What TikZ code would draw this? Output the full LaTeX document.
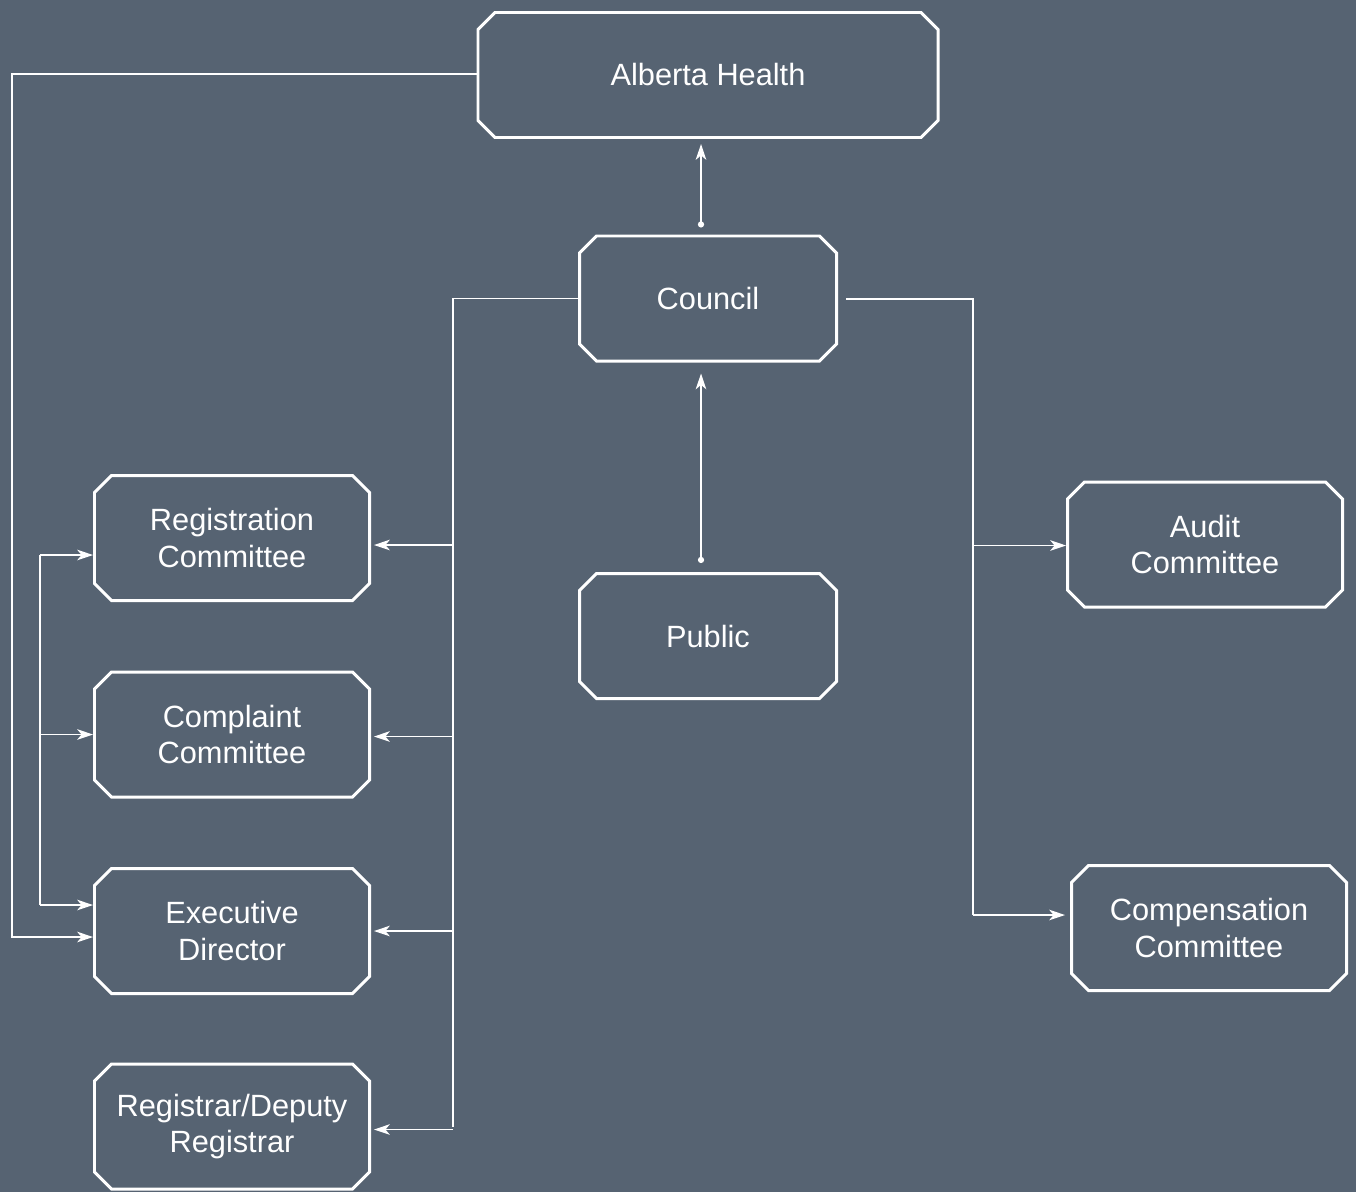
\documentclass[tikz,border=0pt]{standalone}
\usepackage{fontspec}
\setmainfont{Liberation Sans}
\usetikzlibrary{shapes.misc,arrows.meta}
\definecolor{slate}{HTML}{566372}

\begin{document}
\begin{tikzpicture} [x=0.2cm,y=-0.2cm,every node/.style={chamfered rectangle,chamfered rectangle xsep=0.17cm,chamfered rectangle ysep=0.17cm,draw=white,line width=1.7pt,text=white,align=center,font=\fontsize{17.5}{20.5}\selectfont,minimum width=5.5cm,minimum height=2.5cm,inner sep=0pt},link/.style={draw=white,line width=0.8pt},arr/.style={link,-{Stealth[length=9pt,width=6pt,inset=2.5pt]}}]
	\fill[slate] (0,0) rectangle (135.6,119.2);
	\node[minimum width=9.2cm] (ah) at (70.8, 7.5) {Alberta Health};
	\node[minimum width=5.14cm] (co) at (70.8,29.85) {Council};
	\node[minimum width=5.14cm] (pu) at (70.8,63.6) {Public};
	\node (rc) at (23.2,53.8) {Registration\\Committee};
	\node (cc) at (23.2,73.45) {Complaint\\Committee};
	\node (ed) at (23.2,93.1) {Executive\\Director};
	\node (rr) at (23.2,112.65) {Registrar/Deputy\\Registrar};
	\node (ac) at (120.5,54.45) {Audit\\Committee};
	\node (cm) at (120.9,92.8) {Compensation\\Committee};
	\coordinate (lb) at (45.3,29.7);
	\coordinate (rb) at (97.3,29.9);
	\coordinate (ob) at (1.2,7.4);
	\coordinate (kt) at (4.0,55.5);
	\coordinate (kb) at (4.0,90.5);
	% upward links with a dot at the start
	\draw [arr,{Circle[length=3.5pt]}-{Stealth[length=9pt,width=6pt,inset=2.5pt]},shorten <=0.14cm,shorten >=0.1cm] ([xshift=-0.14cm]co.north) -- ([xshift=-0.14cm]ah.south);
	\draw [arr,{Circle[length=3.5pt]}-{Stealth[length=9pt,width=6pt,inset=2.5pt]},shorten <=0.18cm,shorten >=0.22cm] ([xshift=-0.14cm]pu.north) -- ([xshift=-0.14cm]co.north |- co.south);
	% council to the committees on the left
	\draw [link] (co.west) -| (lb |- rr.east);
	\foreach \to/\dy in {rc/-0.14,cc/-0.04,ed/0,rr/-0.06}
		\draw [arr,shorten >=0.06cm] ([yshift=\dy cm]lb |- \to.east) -- ([yshift=\dy cm]\to.east);
	% council to the committees on the right
	\draw [link] ([xshift=0.16cm]co.east |- rb) -- (rb) -- ([yshift=0.26cm]rb |- cm.west);
	\draw [arr] ([yshift=-0.02cm]rb |- ac.west) -- ([yshift=-0.02cm]ac.west);
	\draw [arr,shorten >=0.1cm] ([yshift=0.26cm]rb |- cm.west) -- ([yshift=0.26cm]cm.west);
	% alberta health to the executive director
	\draw [arr] (ah.west |- ob) -- (ob) |- ([yshift=-0.12cm]ed.west);
	\draw [link] (kt) -- (kb);
	\draw [arr] (kt) -- (kt -| rc.west);
	\draw [arr] (kt |- cc.west) -- (cc.west);
	\draw [arr] (kb) -- (kb -| ed.west);
\end{tikzpicture}
\end{document}
